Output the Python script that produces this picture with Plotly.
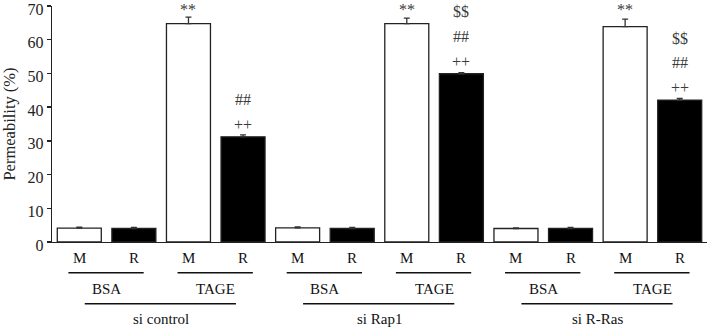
import plotly.graph_objects as go

# ---- data ----
sirna = ["si control", "si Rap1", "si R-Ras"]
treatments = ["BSA", "TAGE"]
cells = ["M", "R"]
values = [4.1, 4.0, 64.8, 31.2,
          4.2, 4.0, 64.8, 49.9,
          4.0, 4.0, 63.9, 42.1]
errors = [0.3, 0.3, 1.9, 0.6,
          0.3, 0.3, 1.6, 0.3,
          0.2, 0.3, 2.2, 0.5]
sig_star = ["", "", "**", "", "", "", "**", "", "", "", "**", ""]
sig_plus = ["", "", "", "++", "", "", "", "++", "", "", "", "++"]
sig_hash = ["", "", "", "##", "", "", "", "##", "", "", "", "##"]
sig_dollar = ["", "", "", "", "", "", "", "$$", "", "", "", "$$"]

FONT = "Liberation Serif"
n = len(values)
xs = list(range(n))
cell_labels = [cells[i % 2] for i in xs]
fills = ["white" if c == "M" else "black" for c in cell_labels]

fig = go.Figure()
fig.add_trace(go.Bar(
    x=xs, y=values, width=0.806,
    marker=dict(color=fills, line=dict(color="#222", width=1.3)),
    error_y=dict(type="data", symmetric=False, array=errors,
                 arrayminus=[0] * n, color="#333", thickness=1.3, width=3),
    showlegend=False, hoverinfo="skip",
))

ann = []
sfont = dict(family=FONT, size=16, color="#3a3a3a")
for i in xs:
    if sig_star[i]:
        ann.append(dict(x=i, y=70, xref="x", yref="y", text=sig_star[i],
                        showarrow=False, font=sfont, yanchor="middle", yshift=-3))
    top = values[i]
    for k, s in enumerate([sig_plus[i], sig_hash[i], sig_dollar[i]]):
        if s:
            ann.append(dict(x=i, y=top + 3.6 + 7.4 * k, xref="x", yref="y",
                            text=s, showarrow=False, font=sfont, yanchor="middle"))

lfont = dict(family=FONT, size=15, color="#111")
shapes = []
for i in xs:
    ann.append(dict(x=i, y=-0.068, xref="x", yref="paper", text=cell_labels[i],
                    showarrow=False, font=lfont, yanchor="middle"))
for g in range(n // 2):
    a = 2 * g
    shapes.append(dict(type="line", xref="x", yref="paper", x0=a - 0.2, x1=a + 1.18,
                       y0=-0.13, y1=-0.13, line=dict(color="#111", width=1.5)))
    ann.append(dict(x=a + 0.5, y=-0.199, xref="x", yref="paper",
                    text=treatments[g % 2], showarrow=False, font=lfont, yanchor="middle"))
for s_i, name in enumerate(sirna):
    a = 4 * s_i
    shapes.append(dict(type="line", xref="x", yref="paper", x0=a + 0.1, x1=a + 2.87,
                       y0=-0.262, y1=-0.262, line=dict(color="#111", width=1.5)))
    ann.append(dict(x=a + 1.5, y=-0.326, xref="x", yref="paper", text=name,
                    showarrow=False, font=lfont, yanchor="middle"))

fig.update_layout(
    width=708, height=329,
    margin=dict(l=52, r=1, t=6, b=87, autoexpand=False),
    paper_bgcolor="white", plot_bgcolor="white",
    annotations=ann, shapes=shapes,
    bargap=0,
    xaxis=dict(range=[-0.5, 11.5], showticklabels=False, ticks="",
               showgrid=False, zeroline=False, showline=True,
               linecolor="#222", linewidth=1.3, automargin=False),
    yaxis=dict(range=[0, 70], dtick=10, ticks="outside", ticklen=4,
               tickwidth=1.3, tickcolor="#222", showgrid=False, zeroline=False,
               showline=True, linecolor="#222", linewidth=1.3,
               automargin=False, ticklabeloverflow="allow", ticklabelshift=3,
               tickfont=dict(family=FONT, size=16, color="#222"),
               title=dict(text="Permeability (%)", standoff=9,
                          font=dict(family=FONT, size=16.5, color="#222"))),
)

fig.write_html("out.html", config={"displayModeBar": False, "staticPlot": True},
               post_script="document.body.style.margin='0';document.body.style.padding='0';")
